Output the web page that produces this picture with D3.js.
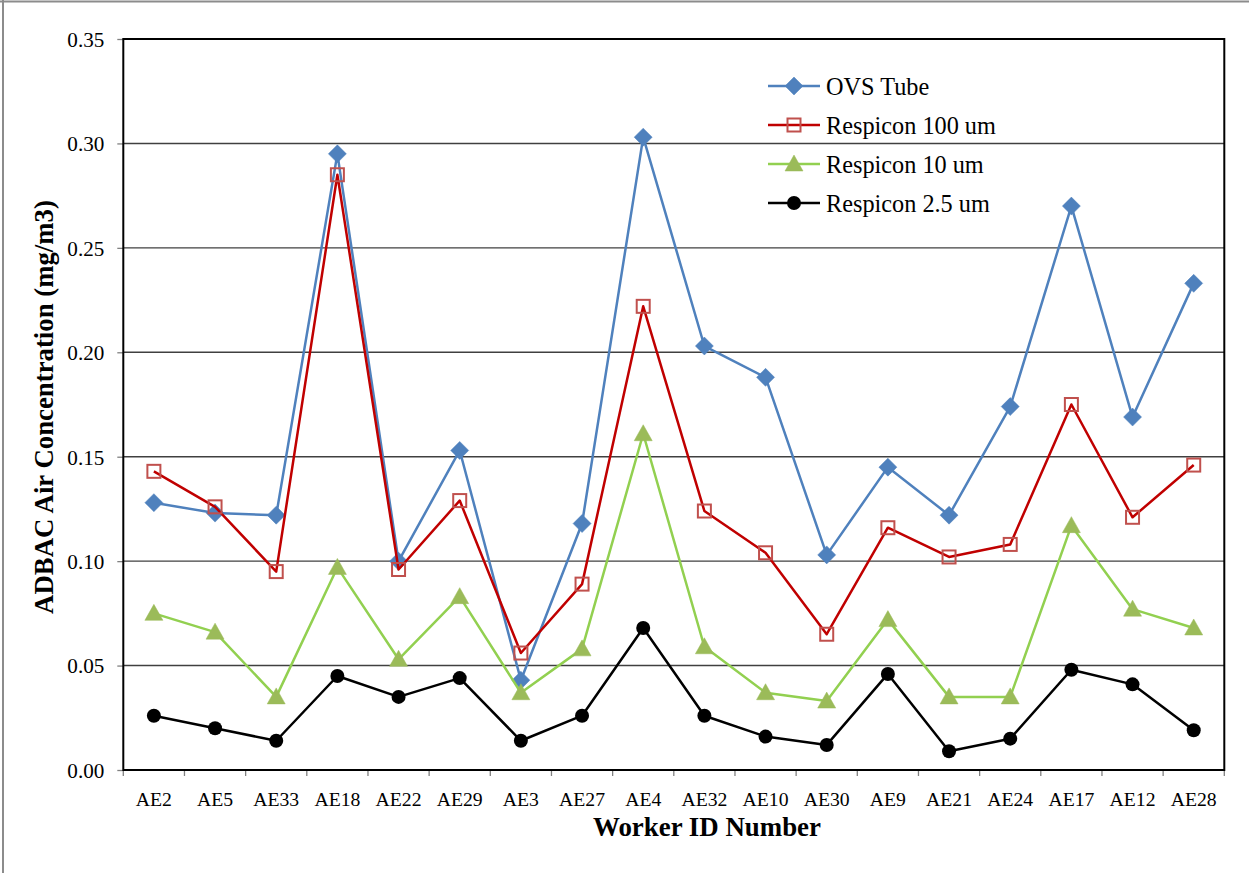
<!DOCTYPE html>
<html>
<head>
<meta charset="utf-8">
<script src="https://cdn.jsdelivr.net/npm/d3@7"></script>
<style>
  html, body { margin: 0; padding: 0; background: #fff; }
  svg { display: block; }
</style>
</head>
<body>
<svg id="chart" width="1249" height="873"></svg>
<script>
const categories = ["AE2","AE5","AE33","AE18","AE22","AE29","AE3","AE27","AE4","AE32","AE10","AE30","AE9","AE21","AE24","AE17","AE12","AE28"];
const ovsTube     = [0.128,0.123,0.122,0.295,0.100,0.153,0.043,0.118,0.303,0.203,0.188,0.103,0.145,0.122,0.174,0.270,0.169,0.233];
const respicon100 = [0.143,0.126,0.095,0.285,0.096,0.129,0.056,0.089,0.222,0.124,0.104,0.065,0.116,0.102,0.108,0.175,0.121,0.146];
const respicon10  = [0.075,0.066,0.035,0.097,0.053,0.083,0.037,0.058,0.161,0.059,0.037,0.033,0.072,0.035,0.035,0.117,0.077,0.068];
const respicon25  = [0.026,0.020,0.014,0.045,0.035,0.044,0.014,0.026,0.068,0.026,0.016,0.012,0.046,0.009,0.015,0.048,0.041,0.019];
const yTicks = [0,0.05,0.10,0.15,0.20,0.25,0.30,0.35];
const seriesNames = ["OVS Tube","Respicon 100 um","Respicon 10 um","Respicon 2.5 um"];
const xTitle = "Worker ID Number";
const yTitle = "ADBAC Air Concentration (mg/m3)";

// pick an installed serif face
function available(f) {
  const c = document.createElement("canvas").getContext("2d");
  const s = "AE28 Respicon 0.35 Worker abcdefghijklmnopqrstuvwxyz";
  c.font = "40px monospace"; const a = c.measureText(s).width;
  c.font = `40px "${f}", monospace`; const b = c.measureText(s).width;
  return Math.abs(a - b) > 0.5;
}
const FONT = ["Liberation Serif","Tinos","Times New Roman","Nimbus Roman","DejaVu Serif"].find(available) || "serif";

const svg = d3.select("#chart");
svg.style("font-family", `"${FONT}", serif`);

// size a text so that its width matches the reference width
function fitSize(str, target, weight) {
  const t = svg.append("text").style("font-family", `"${FONT}", serif`).style("font-size", "20px")
    .style("font-weight", weight || "normal").text(str);
  const w = t.node().getComputedTextLength(); t.remove();
  return 20 * target / w;
}
const tickSizeX = fitSize("AE28", 46);
const tickSizeY = fitSize("0.35", 37);
const legSize = fitSize("Respicon 100 um", 170);
const xTitleSize = fitSize(xTitle, 228, "bold");
const yTitleSize = fitSize(yTitle, 414, "bold");

const series = [
  {name: seriesNames[0], values: ovsTube,     line: "#4f81bd", marker: "diamond"},
  {name: seriesNames[1], values: respicon100, line: "#c00000", marker: "square"},
  {name: seriesNames[2], values: respicon10,  line: "#92d050", marker: "triangle"},
  {name: seriesNames[3], values: respicon25,  line: "#000000", marker: "circle"}
];

const L = 123.3, R = 1224.3, T = 39, B = 770;

// outer border (left & top)
svg.append("line").attr("x1",3).attr("x2",3).attr("y1",0).attr("y2",873).attr("stroke","#8c8c8c").attr("stroke-width",2);
svg.append("line").attr("x1",0).attr("x2",1249).attr("y1",1.5).attr("y2",1.5).attr("stroke","#8c8c8c").attr("stroke-width",2);

const x = d3.scaleBand().domain(categories).range([L, R]);
const y = d3.scaleLinear().domain([0, 0.35]).range([B, T]);

// gridlines
svg.append("g").selectAll("line").data(yTicks.filter(d => d > 0 && d < 0.35)).join("line")
  .attr("x1", L).attr("x2", R).attr("y1", d => y(d)).attr("y2", d => y(d))
  .attr("stroke", "#404040").attr("stroke-width", 1.4);

// y axis
const yAxis = svg.append("g").attr("transform", `translate(${L},0)`)
  .call(d3.axisLeft(y).tickValues(yTicks).tickFormat(d3.format(".2f")).tickSize(6).tickPadding(13));
yAxis.attr("font-family", null).attr("font-size", null);
yAxis.select(".domain").remove();
yAxis.selectAll(".tick line").attr("stroke", "#808080").attr("stroke-width", 1.3);
yAxis.selectAll(".tick text").style("font-family", `"${FONT}", serif`).style("font-size", tickSizeY + "px").attr("dy", "0.35em").attr("fill", "#000");

// x axis
const xAxis = svg.append("g").attr("transform", `translate(0,${B})`)
  .call(d3.axisBottom(x).tickSize(0).tickPadding(22));
xAxis.attr("font-family", null).attr("font-size", null);
xAxis.select(".domain").remove();
xAxis.selectAll(".tick text").style("font-family", `"${FONT}", serif`).style("font-size", tickSizeX + "px").attr("fill", "#000");
// x tick marks at band boundaries
const bounds = categories.map(c => x(c)).concat([x(categories[categories.length-1]) + x.bandwidth()]);
svg.append("g").selectAll("line").data(bounds).join("line")
  .attr("x1", d => d).attr("x2", d => d).attr("y1", B).attr("y2", B + 6)
  .attr("stroke", "#808080").attr("stroke-width", 1.3);

// plot border
svg.append("rect").attr("x", L).attr("y", T).attr("width", R - L).attr("height", B - T)
  .attr("fill", "none").attr("stroke", "#000").attr("stroke-width", 2);

function drawMarker(g, type) {
  if (type === "diamond") {
    g.append("path").attr("d", "M0,-9L9,0L0,9L-9,0Z").attr("fill", "#4f81bd").attr("stroke", "#4f81bd").attr("stroke-width", 0.5);
  } else if (type === "square") {
    g.append("rect").attr("x", -6.5).attr("y", -6.5).attr("width", 13).attr("height", 13)
      .attr("fill", "none").attr("stroke", "#c0504d").attr("stroke-width", 2);
  } else if (type === "triangle") {
    g.append("path").attr("d", "M0,-9L9,7L-9,7Z").attr("fill", "#9bbb59").attr("stroke", "#9bbb59").attr("stroke-width", 0.5);
  } else {
    g.append("circle").attr("r", 7).attr("fill", "#000");
  }
}

const cx = c => x(c) + x.bandwidth() / 2;
const lineGen = d3.line().x(d => cx(d.c)).y(d => y(d.v));

series.forEach(s => {
  const pts = categories.map((c, i) => ({c, v: s.values[i]}));
  const g = svg.append("g");
  g.append("path").datum(pts).attr("d", lineGen).attr("fill", "none")
    .attr("stroke", s.line).attr("stroke-width", 2.5).attr("stroke-linejoin", "round");
  g.selectAll("g.m").data(pts).join("g").attr("class", "m")
    .attr("transform", d => `translate(${cx(d.c)},${y(d.v)})`)
    .each(function() { drawMarker(d3.select(this), s.marker); });
});

// legend
const lg = svg.append("g");
series.forEach((s, i) => {
  const yy = 86 + i * 39;
  lg.append("line").attr("x1", 768).attr("x2", 820).attr("y1", yy).attr("y2", yy)
    .attr("stroke", s.line).attr("stroke-width", 2.5);
  drawMarker(lg.append("g").attr("transform", `translate(794,${yy})`), s.marker);
  lg.append("text").attr("x", 826).attr("y", yy).attr("dy", "0.35em")
    .style("font-size", legSize + "px").text(s.name);
});

// axis titles
svg.append("text").attr("x", 707).attr("y", 836).attr("text-anchor", "middle")
  .style("font-size", xTitleSize + "px").style("font-weight", "bold").text(xTitle);
svg.append("text").attr("transform", `translate(53,407) rotate(-90)`).attr("text-anchor", "middle")
  .style("font-size", yTitleSize + "px").style("font-weight", "bold").text(yTitle);
</script>
</body>
</html>
